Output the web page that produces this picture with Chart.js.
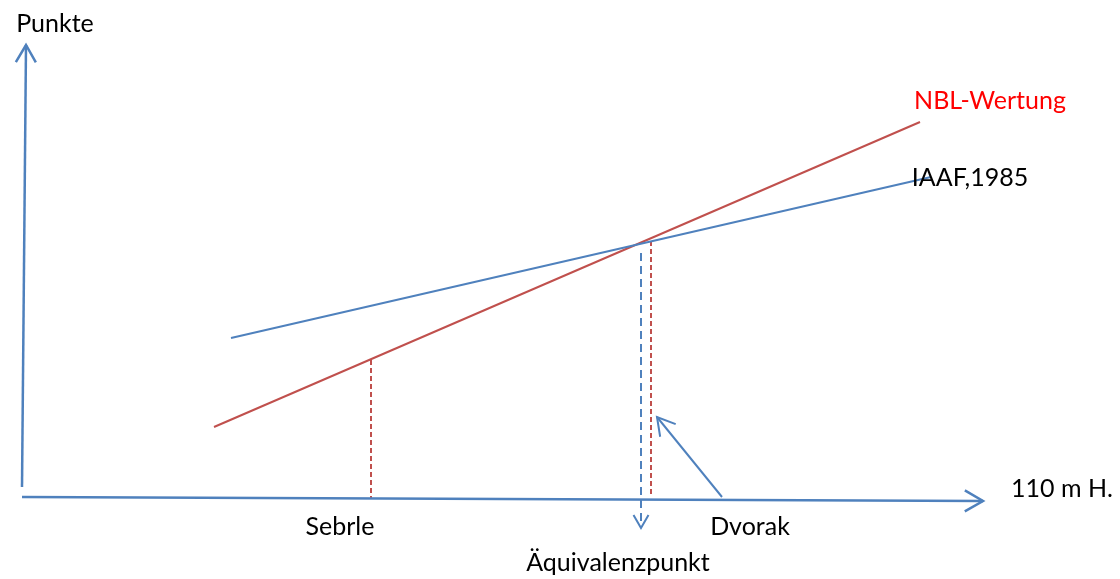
<!DOCTYPE html>
<html>
<head>
<meta charset="utf-8">
<script src="https://cdn.jsdelivr.net/npm/chart.js@4.4.1/dist/chart.umd.min.js"></script>
<style>
  html, body { margin: 0; padding: 0; background: #ffffff; }
  #wrap { width: 1120px; height: 579px; }
</style>
</head>
<body>
<div id="wrap"><canvas id="diagram" width="1120" height="579"></canvas></div>
<script>
// diagram units: x = performance (110 m H.), y = points
const yAxisLine = [{ x: 22, y: 92 }, { x: 26, y: 534 }];
const xAxisLine = [{ x: 22, y: 82 }, { x: 983, y: 78 }];
const iaafLine = [{ x: 231, y: 241 }, { x: 931, y: 402 }];
const nblLine = [{ x: 214, y: 152 }, { x: 920, y: 457 }];
const sebrleDrop = [{ x: 371, y: 219 }, { x: 371, y: 81 }];
const dvorakDrop = [{ x: 651, y: 338 }, { x: 651, y: 85 }];
const equivDrop = [{ x: 641, y: 326 }, { x: 641, y: 51 }];
const pointerArrow = [{ x: 722, y: 82 }, { x: 657, y: 162 }];

const labelTexts = ['Punkte', 'NBL-Wertung', 'IAAF,1985', '110 m H.', 'Sebrle', 'Dvorak', 'Äquivalenzpunkt'];
const labelX = [55, 990, 970, 1062, 340, 750, 618];
const labelY = [547, 470, 393, 82, 44, 44, 8];
const labelColors = ['#000000', '#ff0000', '#000000', '#000000', '#000000', '#000000', '#000000'];

const BLUE = '#4f81bd';
const RED = '#c0504d';

function seg(data, color, extra) {
  return Object.assign({
    data: data,
    showLine: true,
    borderColor: color,
    backgroundColor: color,
    borderWidth: 2,
    pointRadius: 0,
    pointHoverRadius: 0,
    clip: false
  }, extra || {});
}

// draws arrow heads at the end of datasets flagged with "arrow"
const arrowHeads = {
  id: 'arrowHeads',
  afterDatasetsDraw(chart) {
    const ctx = chart.ctx;
    const xs = chart.scales.x, ys = chart.scales.y;
    chart.data.datasets.forEach(ds => {
      if (!ds.arrow) return;
      const a = ds.data[ds.data.length - 2], b = ds.data[ds.data.length - 1];
      const x1 = xs.getPixelForValue(a.x), y1 = ys.getPixelForValue(a.y);
      const x2 = xs.getPixelForValue(b.x), y2 = ys.getPixelForValue(b.y);
      const ang = Math.atan2(y2 - y1, x2 - x1);
      const len = ds.arrow, spread = Math.PI / 6;
      ctx.save();
      ctx.strokeStyle = ds.borderColor;
      ctx.lineWidth = ds.borderWidth;
      ctx.setLineDash([]);
      ctx.beginPath();
      ctx.moveTo(x2 - len * Math.cos(ang - spread), y2 - len * Math.sin(ang - spread));
      ctx.lineTo(x2, y2);
      ctx.lineTo(x2 - len * Math.cos(ang + spread), y2 - len * Math.sin(ang + spread));
      ctx.stroke();
      ctx.restore();
    });
  }
};

const textLabels = {
  id: 'textLabels',
  afterDraw(chart) {
    const ctx = chart.ctx;
    const xs = chart.scales.x, ys = chart.scales.y;
    ctx.save();
    ctx.font = '25px Lato, "Open Sans", sans-serif';
    ctx.textAlign = 'center';
    ctx.textBaseline = 'alphabetic';
    labelTexts.forEach((t, i) => {
      ctx.fillStyle = labelColors[i];
      ctx.fillText(t, xs.getPixelForValue(labelX[i]), ys.getPixelForValue(labelY[i]));
    });
    ctx.restore();
  }
};

new Chart(document.getElementById('diagram'), {
  type: 'scatter',
  data: {
    datasets: [
      seg(yAxisLine, BLUE, { arrow: 20, borderWidth: 2.5 }),
      seg(xAxisLine, BLUE, { arrow: 21, borderWidth: 2.5 }),
      seg(iaafLine, BLUE),
      seg(nblLine, RED),
      seg(sebrleDrop, RED, { borderDash: [5, 3] }),
      seg(dvorakDrop, RED, { borderDash: [5, 3] }),
      seg(equivDrop, BLUE, { borderDash: [8, 5], arrow: 15 }),
      seg(pointerArrow, BLUE, { arrow: 20 })
    ]
  },
  options: {
    responsive: false,
    animation: false,
    layout: { padding: 0 },
    plugins: { legend: { display: false }, tooltip: { enabled: false } },
    scales: {
      x: { type: 'linear', min: 0, max: 1120, display: false },
      y: { type: 'linear', min: 0, max: 579, display: false }
    }
  },
  plugins: [arrowHeads, textLabels]
});
</script>
</body>
</html>
